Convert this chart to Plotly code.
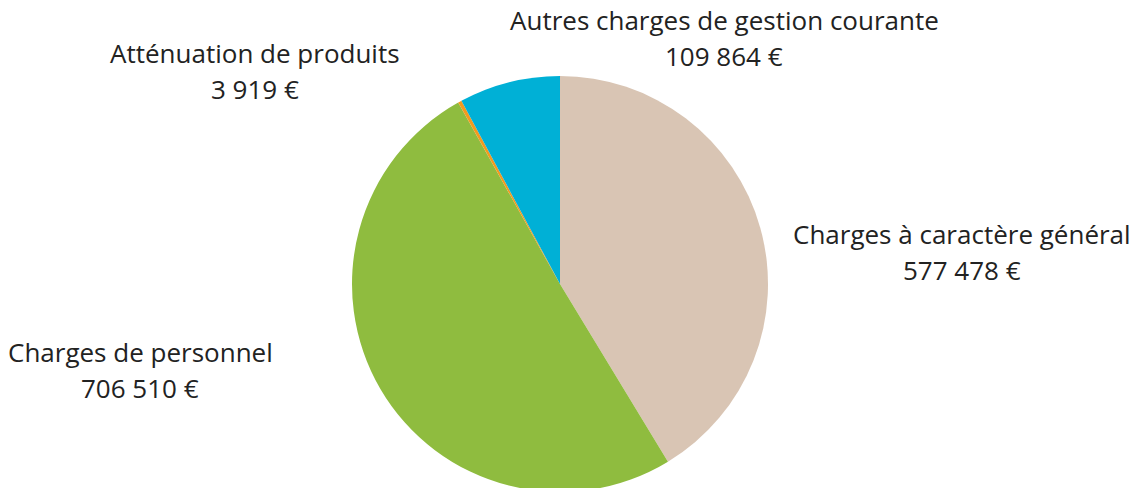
import plotly.graph_objects as go

W, H = 1144, 492  # slightly taller than the window: the pie bottom is cut off in the reference
OFF = 0  # body margin removed below via post_script

categories = ["Charges à caractère général", "Charges de personnel",
              "Atténuation de produits", "Autres charges de gestion courante"]
values = [577478, 706510, 3919, 109864]
colors = ["#D9C5B4", "#8FBC3F", "#F39A1F", "#00B0D6"]

# label centers in screen pixels (x, y of first line)
label_pos = [(962, 234), (140, 352), (255, 53), (724, 20)]
line_gap = 36

# pie placement in screen pixels
cx, top, R = 560, 76, 208

fx0 = (cx - OFF - R) / W
fx1 = (cx - OFF + R) / W
fy1 = 1 - (top - OFF) / H
fy0 = max(0, 1 - (top - OFF + 2 * R) / H)

fig = go.Figure(go.Pie(
    labels=categories,
    values=values,
    marker=dict(colors=colors, line=dict(width=0)),
    sort=False,
    direction="clockwise",
    rotation=0,
    textinfo="none",
    hoverinfo="label+value",
    domain=dict(x=[fx0, fx1], y=[fy0, fy1]),
    showlegend=False,
))

def fmt(v):
    return f"{v:,}".replace(",", " ") + " €"

annotations = []
for cat, val, (px, py) in zip(categories, values, label_pos):
    for i, txt in enumerate([cat, fmt(val)]):
        annotations.append(dict(
            text=txt, x=(px - OFF) / W, y=1 - (py - OFF + i * line_gap) / H,
            xref="paper", yref="paper", xanchor="center", yanchor="middle",
            showarrow=False, font=dict(family="Open Sans", size=26, color="#222222"),
        ))

fig.update_layout(
    width=W, height=H,
    margin=dict(l=0, r=0, t=0, b=0),
    paper_bgcolor="white", plot_bgcolor="white",
    annotations=annotations,
)

fig.write_html("out.html", config={"displayModeBar": False},
               post_script="document.body.style.margin='0';document.body.style.overflow='hidden';")
